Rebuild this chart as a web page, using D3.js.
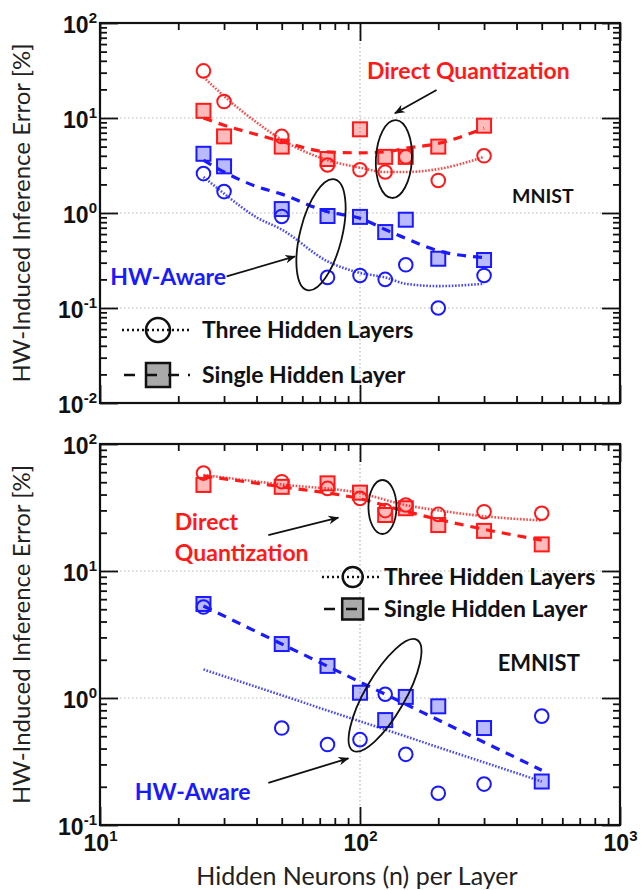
<!DOCTYPE html>
<html>
<head>
<meta charset="utf-8">
<script src="https://cdn.jsdelivr.net/npm/d3@7"></script>
<style>
  body { margin: 0; background: #fff; }
  svg { display: block; }
</style>
</head>
<body>
<svg id="chart" width="642" height="890"></svg>
<script>
// ---------- data ----------
// MNIST (top panel)
const mnistN = [25, 30, 50, 75, 100, 125, 150, 200, 300];
const mnistDQThree = [31.3, 14.9, 6.4, 3.2, 2.85, 2.7, 3.9, 2.2, 4.0];
const mnistDQSingle = [11.9, 6.4, 5.0, 3.7, 7.6, 3.9, 3.9, 5.0, 8.3];
const mnistHWThree = [2.6, 1.68, 0.92, 0.21, 0.22, 0.20, 0.285, 0.10, 0.22];
const mnistHWSingle = [4.2, 3.1, 1.1, 0.93, 0.91, 0.63, 0.85, 0.33, 0.32];

// fitted trend curves
const mnistFitN = [25, 30, 40, 50, 75, 100, 125, 150, 200, 300];
const mnistDQThreeFit = [27, 17, 9.0, 5.9, 3.6, 3.0, 2.7, 2.7, 2.9, 3.9];
const mnistDQSingleFit = [10.0, 8.4, 6.7, 5.65, 4.4, 4.3, 4.4, 4.8, 5.4, 7.8];
const mnistHWThreeFit = [2.4, 1.6, 0.9, 0.67, 0.31, 0.234, 0.21, 0.18, 0.17, 0.18];
const mnistHWSingleFit = [3.6, 2.7, 1.9, 1.58, 1.03, 0.88, 0.67, 0.54, 0.40, 0.34];

// EMNIST (bottom panel)
const emnistN = [25, 50, 75, 100, 125, 150, 200, 300, 500];
const emnistDQThree = [59, 50.5, 44.7, 37.3, 29.9, 33.1, 27.9, 29.3, 28.5];
const emnistDQSingle = [47.6, 46, 49, 41.4, 27.6, 31.2, 23, 20.7, 16.2];
const emnistHWThree = [5.2, 0.58, 0.43, 0.47, 1.07, 0.36, 0.178, 0.21, 0.72];
const emnistHWSingle = [5.5, 2.66, 1.79, 1.10, 0.67, 1.02, 0.86, 0.58, 0.22];

const emnistFitN = [25, 50, 100, 150, 200, 300, 500];
const emnistDQThreeFit = [57, 48, 41, 33, 30, 27, 25];
const emnistDQSingleFit = [56, 46, 37, 29.5, 25.5, 21.3, 17.5];
const emnistLineN = [25, 500];
const emnistHWThreeFit = [1.68, 0.22];
const emnistHWSingleFit = [5.3, 0.27];

const xTickValues = [10, 100, 1000];
const legendLabels = ["Three Hidden Layers", "Single Hidden Layer"];

// ---------- layout ----------
const RED = "#ff1a1a", BLUE = "#1a1aff";
const svg = d3.select("#chart");
const x = d3.scaleLog().domain([10, 1000]).range([100, 620]);

const panels = [
  {
    top: 23, bottom: 403, yDomain: [1e-2, 1e2], xLabels: false,
    series: [
      { n: mnistN, v: mnistDQThree, fn: mnistFitN, fv: mnistDQThreeFit, color: RED, kind: "three" },
      { n: mnistN, v: mnistDQSingle, fn: mnistFitN, fv: mnistDQSingleFit, color: RED, kind: "single" },
      { n: mnistN, v: mnistHWThree, fn: mnistFitN, fv: mnistHWThreeFit, color: BLUE, kind: "three" },
      { n: mnistN, v: mnistHWSingle, fn: mnistFitN, fv: mnistHWSingleFit, color: BLUE, kind: "single" }
    ],
    ellipses: [
      { n: 135, v: 3.7, rx: 18, ry: 39, rot: 3 },
      { n: 70.8, v: 0.59, rx: 21, ry: 57, rot: 14 }
    ],
    arrows: [
      { from: [197, 19.7], to: [136.3, 11.2] },
      { from: [30.7, 0.215], to: [56.2, 0.349] }
    ],
    texts: [
      { n: 261, v: 31.3, text: "Direct Quantization", color: RED, anchor: "middle", size: 23 },
      { n: 18.3, v: 0.21, text: "HW-Aware", color: BLUE, anchor: "middle", size: 23 },
      { n: 505, v: 1.49, text: "MNIST", color: "#111", anchor: "middle", size: 19.5 }
    ],
    legend: { x0: 122, cx: 158, x1: 190, y1: 330, y2: 375, r: 12, sq: 24, tx: 202 }
  },
  {
    top: 444, bottom: 825, yDomain: [1e-1, 1e2], xLabels: true,
    series: [
      { n: emnistN, v: emnistDQThree, fn: emnistFitN, fv: emnistDQThreeFit, color: RED, kind: "three" },
      { n: emnistN, v: emnistDQSingle, fn: emnistFitN, fv: emnistDQSingleFit, color: RED, kind: "single" },
      { n: emnistN, v: emnistHWThree, fn: emnistLineN, fv: emnistHWThreeFit, color: BLUE, kind: "three" },
      { n: emnistN, v: emnistHWSingle, fn: emnistLineN, fv: emnistHWSingleFit, color: BLUE, kind: "single" }
    ],
    ellipses: [
      { n: 122, v: 31.9, rx: 14, ry: 27, rot: 0 },
      { n: 124.8, v: 1.05, rx: 20, ry: 64, rot: 30 }
    ],
    arrows: [
      { from: [44.4, 19.2], to: [82.5, 26.3] },
      { from: [44.4, 0.215], to: [90.2, 0.335] }
    ],
    texts: [
      { n: 19.4, v: 24.4, text: "Direct", color: RED, anchor: "start", size: 23 },
      { n: 19.4, v: 13.8, text: "Quantization", color: RED, anchor: "start", size: 23 },
      { n: 13.6, v: 0.183, text: "HW-Aware", color: BLUE, anchor: "start", size: 23 },
      { n: 487, v: 1.87, text: "EMNIST", color: "#111", anchor: "middle", size: 22 }
    ],
    legend: { x0: 322, cx: 352.7, x1: 380, y1: 577, y2: 609, r: 10, sq: 21, tx: 384 }
  }
];

svg.append("defs").append("marker")
  .attr("id", "arrowhead")
  .attr("viewBox", "0 0 10 10")
  .attr("refX", 9).attr("refY", 5)
  .attr("markerWidth", 6).attr("markerHeight", 6)
  .attr("orient", "auto")
  .append("path")
  .attr("d", "M0,1 L10,5 L0,9 L3,5 Z")
  .attr("fill", "#111");

function minorTicks(domain) {
  const out = [];
  const lo = Math.round(Math.log10(domain[0])), hi = Math.round(Math.log10(domain[1]));
  for (let d = lo; d < hi; d++) {
    for (let k = 2; k <= 9; k++) out.push(k * Math.pow(10, d));
  }
  return out;
}

function majorTicks(domain) {
  const out = [];
  const lo = Math.round(Math.log10(domain[0])), hi = Math.round(Math.log10(domain[1]));
  for (let d = lo; d <= hi; d++) out.push(Math.pow(10, d));
  return out;
}

function powLabel(sel, fontSize, supSize) {
  sel.each(function (d) {
    const t = d3.select(this);
    t.text(null);
    const e = Math.round(Math.log10(d));
    t.append("tspan").text("10");
    t.append("tspan").attr("dy", -fontSize * 0.42).attr("font-size", supSize).text(e);
  });
}

panels.forEach(p => {
  const y = d3.scaleLog().domain(p.yDomain).range([p.bottom, p.top]);
  const g = svg.append("g");
  const yMaj = majorTicks(p.yDomain);
  const yMin = minorTicks(p.yDomain);
  const xMin = minorTicks([10, 1000]);

  // gridlines
  g.append("g").selectAll("line")
    .data(yMaj.filter(v => v > p.yDomain[0] && v < p.yDomain[1]))
    .join("line")
    .attr("x1", x(10)).attr("x2", x(1000))
    .attr("y1", d => y(d)).attr("y2", d => y(d))
    .attr("stroke", "#b8b8b8").attr("stroke-width", 1.2).attr("stroke-dasharray", "1.5,2.5");
  g.append("line")
    .attr("x1", x(100)).attr("x2", x(100))
    .attr("y1", p.top).attr("y2", p.bottom)
    .attr("stroke", "#b8b8b8").attr("stroke-width", 1.2).attr("stroke-dasharray", "1.5,2.5");

  // axes (ticks inward)
  const tickStyle = s => {
    s.select(".domain").remove();
    s.selectAll(".tick line").attr("stroke", "#111").attr("stroke-width", 1.8);
  };
  g.append("g").attr("transform", `translate(${x(10)},0)`)
    .call(d3.axisLeft(y).tickValues(yMin).tickSize(-7).tickFormat(""))
    .call(tickStyle);
  g.append("g").attr("transform", `translate(${x(1000)},0)`)
    .call(d3.axisRight(y).tickValues(yMin).tickSize(-7).tickFormat(""))
    .call(tickStyle);
  g.append("g").attr("transform", `translate(${x(1000)},0)`)
    .call(d3.axisRight(y).tickValues(yMaj).tickSize(-18).tickFormat(""))
    .call(tickStyle);
  const yAx = g.append("g").attr("transform", `translate(${x(10)},0)`)
    .call(d3.axisLeft(y).tickValues(yMaj).tickSize(-18).tickPadding(3))
    .call(tickStyle);
  yAx.selectAll(".tick text")
    .attr("font-family", "'Liberation Sans', Arial, sans-serif")
    .attr("font-weight", "bold").attr("font-size", 23).attr("fill", "#111")
    .attr("dy", "0.4em")
    .call(powLabel, 23, 15);

  g.append("g").attr("transform", `translate(0,${p.top})`)
    .call(d3.axisTop(x).tickValues(xMin).tickSize(-7).tickFormat(""))
    .call(tickStyle);
  g.append("g").attr("transform", `translate(0,${p.top})`)
    .call(d3.axisTop(x).tickValues(xTickValues).tickSize(-18).tickFormat(""))
    .call(tickStyle);
  g.append("g").attr("transform", `translate(0,${p.bottom})`)
    .call(d3.axisBottom(x).tickValues(xMin).tickSize(-7).tickFormat(""))
    .call(tickStyle);
  const xAx = g.append("g").attr("transform", `translate(0,${p.bottom})`)
    .call(d3.axisBottom(x).tickValues(xTickValues).tickSize(-18).tickPadding(6))
    .call(tickStyle);
  if (p.xLabels) {
    xAx.selectAll(".tick text")
      .attr("font-family", "'Liberation Sans', Arial, sans-serif")
      .attr("font-weight", "bold").attr("font-size", 23).attr("fill", "#111")
      .attr("dy", "0.85em")
      .call(powLabel, 23, 15);
  } else {
    xAx.selectAll(".tick text").remove();
  }

  // fitted lines
  p.series.forEach(s => {
    const pts = s.fn.map((n, i) => [n, s.fv[i]]);
    const line = d3.line()
      .x(d => x(d[0])).y(d => y(d[1]))
      .curve(pts.length > 2 ? d3.curveMonotoneX : d3.curveLinear);
    g.append("path")
      .attr("d", line(pts))
      .attr("fill", "none")
      .attr("stroke", s.color)
      .attr("stroke-width", s.kind === "three" ? 2.6 : 3.2)
      .attr("stroke-dasharray", s.kind === "three" ? "1.6,1.6" : "9,7")
      .attr("opacity", s.kind === "three" ? 0.8 : 1);
  });

  // markers
  p.series.forEach(s => {
    const pts = s.n.map((n, i) => [n, s.v[i]]);
    if (s.kind === "three") {
      g.append("g").selectAll("circle").data(pts).join("circle")
        .attr("cx", d => x(d[0])).attr("cy", d => y(d[1]))
        .attr("r", 6.8)
        .attr("fill", "none").attr("stroke", s.color).attr("stroke-width", 2);
    } else {
      g.append("g").selectAll("rect").data(pts).join("rect")
        .attr("x", d => x(d[0]) - 7).attr("y", d => y(d[1]) - 7)
        .attr("width", 14).attr("height", 14)
        .attr("fill", s.color).attr("fill-opacity", 0.3)
        .attr("stroke", s.color).attr("stroke-width", 2);
    }
  });

  // frame
  g.append("rect")
    .attr("x", x(10)).attr("y", p.top)
    .attr("width", x(1000) - x(10)).attr("height", p.bottom - p.top)
    .attr("fill", "none").attr("stroke", "#111").attr("stroke-width", 2.2);

  // annotations
  p.ellipses.forEach(e => {
    g.append("ellipse")
      .attr("transform", `translate(${x(e.n)},${y(e.v)}) rotate(${e.rot})`)
      .attr("rx", e.rx).attr("ry", e.ry)
      .attr("fill", "none").attr("stroke", "#111").attr("stroke-width", 1.8);
  });
  p.arrows.forEach(a => {
    g.append("line")
      .attr("x1", x(a.from[0])).attr("y1", y(a.from[1]))
      .attr("x2", x(a.to[0])).attr("y2", y(a.to[1]))
      .attr("stroke", "#111").attr("stroke-width", 1.8)
      .attr("marker-end", "url(#arrowhead)");
  });
  p.texts.forEach(t => {
    g.append("text")
      .attr("x", x(t.n)).attr("y", y(t.v))
      .attr("dy", "0.35em")
      .attr("text-anchor", t.anchor)
      .attr("font-family", "Lato, 'Open Sans', sans-serif")
      .attr("font-weight", "bold")
      .attr("font-size", t.size)
      .attr("fill", t.color)
      .text(t.text);
  });

  // legend
  const L = p.legend;
  const lg = g.append("g");
  lg.append("line").attr("x1", L.x0).attr("x2", L.x1).attr("y1", L.y1).attr("y2", L.y1)
    .attr("stroke", "#111").attr("stroke-width", 2.4).attr("stroke-dasharray", "2,3");
  lg.append("circle").attr("cx", L.cx).attr("cy", L.y1).attr("r", L.r)
    .attr("fill", "#fff").attr("fill-opacity", 0).attr("stroke", "#111").attr("stroke-width", 2.5);
  lg.append("rect").attr("x", L.cx - L.sq / 2).attr("y", L.y2 - L.sq / 2)
    .attr("width", L.sq).attr("height", L.sq)
    .attr("fill", "#a9a9a9").attr("stroke", "#111").attr("stroke-width", 2.5);
  lg.append("line").attr("x1", L.x0 + 2).attr("x2", L.x1 + 4).attr("y1", L.y2).attr("y2", L.y2)
    .attr("stroke", "#111").attr("stroke-width", 2.6).attr("stroke-dasharray", "11,11,11,11,11,9,2,100");
  lg.selectAll("text").data(legendLabels).join("text")
    .attr("x", L.tx)
    .attr("y", (d, i) => i === 0 ? L.y1 : L.y2)
    .attr("dy", "0.35em")
    .attr("font-family", "Lato, 'Open Sans', sans-serif")
    .attr("font-weight", "bold").attr("font-size", 23).attr("fill", "#111")
    .text(d => d);

  // y title
  svg.append("text")
    .attr("transform", `translate(22,${(p.top + p.bottom) / 2}) rotate(-90)`)
    .attr("text-anchor", "middle")
    .attr("dy", "0.35em")
    .attr("font-family", "Lato, 'Open Sans', sans-serif")
    .attr("font-size", 24).attr("fill", "#222")
    .text("HW-Induced Inference Error [%]");
});

svg.append("text")
  .attr("x", 357).attr("y", 885)
  .attr("text-anchor", "middle")
  .attr("font-family", "Lato, 'Open Sans', sans-serif")
  .attr("font-size", 25).attr("fill", "#222")
  .text("Hidden Neurons (n) per Layer");
</script>
</body>
</html>
